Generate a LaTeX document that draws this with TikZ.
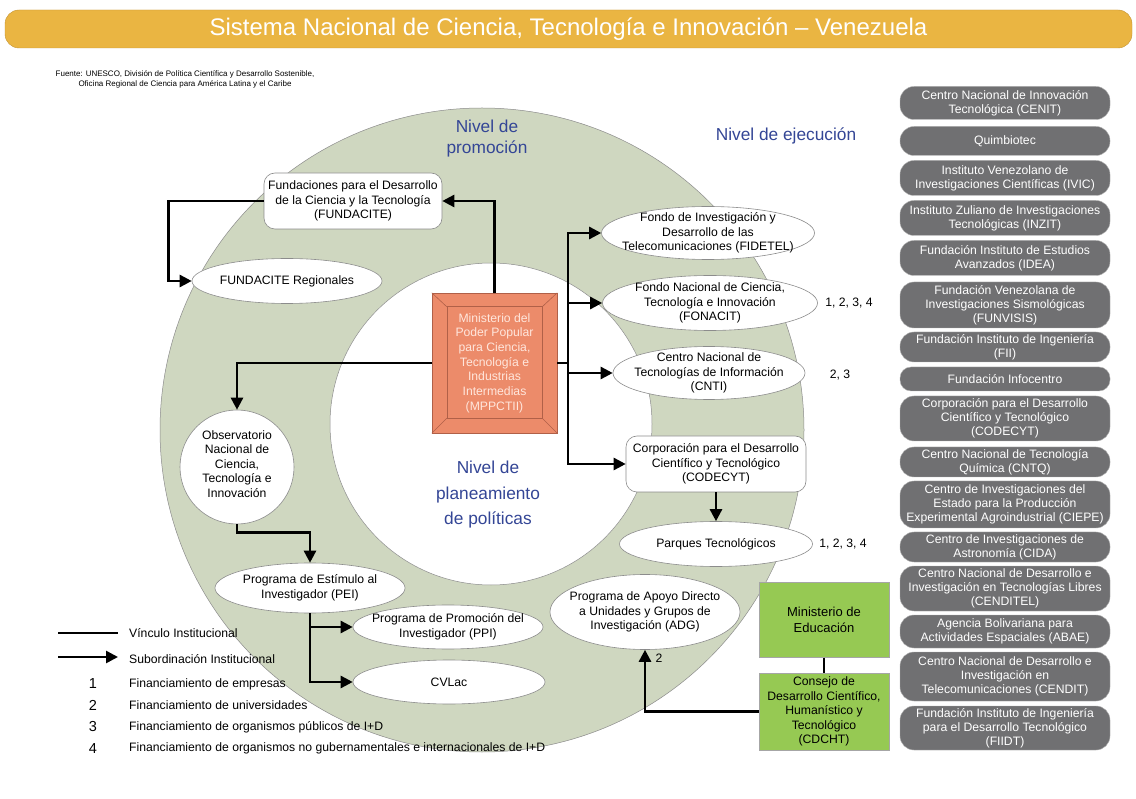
\documentclass[tikz,border=0pt]{standalone}
\usepackage{fontspec}
\setmainfont{Liberation Sans}
\usetikzlibrary{arrows.meta, positioning, shapes.geometric}

\definecolor{ringgreen}{RGB}{207,215,192}
\definecolor{nivelblue}{RGB}{52,70,150}
\definecolor{titlegold}{RGB}{234,181,66}
\definecolor{titleedge}{RGB}{196,148,52}
\definecolor{minorange}{RGB}{236,139,106}
\definecolor{minedge}{RGB}{176,96,72}
\definecolor{minwhite}{RGB}{255,230,220}
\definecolor{edgegreen}{RGB}{150,201,83}
\definecolor{pillgray}{RGB}{112,112,114}
\definecolor{rimgray}{RGB}{140,140,140}

\begin{document}
\begin{tikzpicture}[x=1pt, y=-1pt,
    oval/.style={draw=rimgray, fill=white, ellipse, inner sep=0pt, line width=0.6pt},
    txt/.style={font=\fontsize{12.2}{14.5}\selectfont, align=center, inner sep=0pt},
    rbox/.style={draw=rimgray, fill=white, rounded corners=11pt, line width=0.6pt,
                 font=\fontsize{12.2}{14.5}\selectfont, align=center, inner sep=2pt},
    pill/.style={draw=gray!60, fill=pillgray, text=white, rounded corners=14pt,
                 minimum width=210pt, font=\fontsize{12.2}{14}\selectfont,
                 align=center, inner xsep=0pt, inner ysep=1pt},
    gbox/.style={draw=gray!70, fill=edgegreen, minimum width=130pt,
                 font=\fontsize{12.2}{14.5}\selectfont, align=center, inner sep=1pt},
    minbox/.style={draw=minedge, fill=minorange, minimum width=125pt, minimum height=140pt,
                   text=minwhite, font=\fontsize{12.2}{14.7}\selectfont, align=center, inner sep=0pt},
    nivel/.style={text=nivelblue, font=\fontsize{17.3}{21}\selectfont, align=center},
    note/.style={font=\fontsize{12.2}{14.5}\selectfont, inner sep=0pt},
    num/.style={font=\fontsize{14.5}{16}\selectfont, inner sep=0pt},
    ptr/.style={-{Triangle[length=12pt,width=12pt]}, line width=2.6pt},
    link/.style={line width=2.6pt},
  ]
  \useasboundingbox (0,0) rectangle (1136,799);
  \fill[white] (0,0) rectangle (1136,799);

  % --- Title and source ---
  \node[draw=titleedge, fill=titlegold, rounded corners=14pt, minimum width=1127pt,
        minimum height=38pt, text=white, font=\fontsize{24}{28}\selectfont]
        (title) at (568.5,29) {Sistema Nacional de Ciencia, Tecnología e Innovación – Venezuela};
  \node[font=\fontsize{8}{10}\selectfont, align=center, inner sep=0pt] (fuente) at (185,79)
        {Fuente: UNESCO, División de Política Científica y Desarrollo Sostenible,\\
         Oficina Regional de Ciencia para América Latina y el Caribe};

  % --- Levels: green ring and white core ---
  \filldraw[fill=ringgreen, draw=rimgray, line width=0.5pt] (482,430) circle[radius=322pt];
  \filldraw[fill=white, draw=rimgray, line width=0.5pt] (491,424) circle[radius=161pt];
  \node[nivel] (promo) at (487,139) {Nivel de\\promoción};
  \node[nivel] (ejec) at (786,136) {Nivel de ejecución};
  \node[nivel, font=\fontsize{17.3}{25.5}\selectfont] (plan) at (488,495)
        {Nivel de\\planeamiento\\de políticas};

  % --- Ministry (bevelled box) ---
  \node[minbox] (mppctii) at (494.5,363)
        {Ministerio del\\Poder Popular\\para Ciencia,\\Tecnología e\\Industrias\\Intermedias\\(MPPCTII)};
  \draw[minedge, line width=0.6pt] ([shift={(15,14)}]mppctii.north west)
        rectangle ([shift={(-15,-15)}]mppctii.south east);
  \draw[minedge, line width=0.6pt] (mppctii.north west) -- ++(15,14);
  \draw[minedge, line width=0.6pt] (mppctii.north east) -- ++(-15,14);
  \draw[minedge, line width=0.6pt] (mppctii.south west) -- ++(15,-15);
  \draw[minedge, line width=0.6pt] (mppctii.south east) -- ++(-15,-15);

  % --- Promotion level ---
  \node[rbox, minimum width=178pt, minimum height=56pt] (fundacite) at (353,201)
        {Fundaciones para el Desarrollo\\de la Ciencia y la Tecnología\\(FUNDACITE)};
  \node[oval, minimum width=190pt, minimum height=45pt] (fundreg) at (287,281) {};
  \node[txt] (fundreg-t) at (fundreg) {FUNDACITE Regionales};
  \node[oval, circle, minimum size=114pt] (observ) at (237,467) {};
  \node[txt] (observ-t) at (237,464) {Observatorio\\Nacional de\\Ciencia,\\Tecnología e\\Innovación};
  \node[oval, minimum width=190pt, minimum height=50pt] (pei) at (310,588) {};
  \node[txt] (pei-t) at (pei) {Programa de Estímulo al\\Investigador (PEI)};
  \node[oval, minimum width=190pt, minimum height=44pt] (ppi) at (448,627) {};
  \node[txt] (ppi-t) at (ppi) {Programa de Promoción del\\Investigador (PPI)};
  \node[oval, minimum width=192pt, minimum height=44pt] (cvlac) at (449,682) {};
  \node[txt] (cvlac-t) at (cvlac) {CVLac};

  % --- Execution level ---
  \node[oval, minimum width=213pt, minimum height=53pt] (fidetel) at (708,233) {};
  \node[txt] (fidetel-t) at (fidetel) {Fondo de Investigación y\\Desarrollo de las\\Telecomunicaciones (FIDETEL)};
  \node[oval, minimum width=215pt, minimum height=55pt] (fonacit) at (710,303) {};
  \node[txt] (fonacit-t) at (fonacit) {Fondo Nacional de Ciencia,\\Tecnología e Innovación\\(FONACIT)};
  \node[oval, minimum width=192pt, minimum height=53pt] (cnti) at (709,373) {};
  \node[txt] (cnti-t) at (cnti) {Centro Nacional de\\Tecnologías de Información\\(CNTI)};
  \node[rbox, minimum width=180pt, minimum height=56pt] (codecyt) at (716,464)
        {Corporación para el Desarrollo\\Científico y Tecnológico\\(CODECYT)};
  \node[oval, minimum width=193pt, minimum height=45pt] (parques) at (716,544) {};
  \node[txt] (parques-t) at (parques) {Parques Tecnológicos};
  \node[oval, minimum width=190pt, minimum height=75pt] (adg) at (645,612) {};
  \node[txt] (adg-t) at (adg) {Programa de Apoyo Directo\\a Unidades y Grupos de\\Investigación (ADG)};
  \node[gbox, minimum height=75pt, font=\fontsize{13}{15.5}\selectfont] (minedu) at (824,620)
        {Ministerio de\\Educación};
  \node[gbox, minimum height=77pt] (cdcht) at (824,711.5)
        {Consejo de\\Desarrollo Científico,\\Humanístico y\\Tecnológico\\(CDCHT)};

  \node[note] (fin-fonacit) at (849,303) {1, 2, 3, 4};
  \node[note] (fin-cnti) at (840,375) {2, 3};
  \node[note] (fin-parques) at (843,544) {1, 2, 3, 4};
  \node[note] (fin-adg) at (659,658) {2};

  % --- Connectors ---
  \coordinate (trunk) at (568,363);
  \draw[ptr] (mppctii.north) |- (fundacite.east);
  \draw[ptr] (fundacite.west) -- ++(-95,0) |- (fundreg.west);
  \draw[ptr] (mppctii.west) -| (observ.north);
  \draw[link] (mppctii.east) -- (trunk);
  \draw[ptr] (trunk) |- (fidetel.west);
  \draw[ptr] (trunk) |- (fonacit.west);
  \draw[ptr] (trunk) |- (cnti.west);
  \draw[ptr] (trunk) |- (codecyt.west);
  \draw[ptr] (codecyt) -- (parques);
  \draw[ptr] (observ.south) -- ++(0,8) -| (pei.north);
  \draw[ptr] (pei.south) |- (ppi.west);
  \draw[ptr] (pei.south) |- (cvlac.west);
  \draw[link] (minedu) -- (cdcht);
  \draw[ptr] (cdcht.west) -| (adg.south);

  % --- Research institutes ---
  \node[pill, minimum height=33pt] (p-cenit) at (1005,103) {Centro Nacional de Innovación\\Tecnológica (CENIT)};
  \node[pill, minimum height=29pt] (p-quim) at (1005,141) {Quimbiotec};
  \node[pill, minimum height=35pt] (p-ivic) at (1005,178) {Instituto Venezolano de\\Investigaciones Científicas (IVIC)};
  \node[pill, minimum height=35pt] (p-inzit) at (1005,218) {Instituto Zuliano de Investigaciones\\Tecnológicas (INZIT)};
  \node[pill, minimum height=35pt] (p-idea) at (1005,258) {Fundación Instituto de Estudios\\Avanzados (IDEA)};
  \node[pill, minimum height=46pt] (p-funvisis) at (1005,305) {Fundación Venezolana de\\Investigaciones Sismológicas\\(FUNVISIS)};
  \node[pill, minimum height=30pt] (p-fii) at (1005,347) {Fundación Instituto de Ingeniería\\(FII)};
  \node[pill, minimum height=24pt, rounded corners=11pt] (p-info) at (1005,379) {Fundación Infocentro};
  \node[pill, minimum height=45pt] (p-codecyt) at (1005,418.5) {Corporación para el Desarrollo\\Científico y Tecnológico\\(CODECYT)};
  \node[pill, minimum height=30pt] (p-cntq) at (1005,462) {Centro Nacional de Tecnología\\Química (CNTQ)};
  \node[pill, minimum height=47pt] (p-ciepe) at (1005,504.5) {Centro de Investigaciones del\\Estado para la Producción\\Experimental Agroindustrial (CIEPE)};
  \node[pill, minimum height=30pt] (p-cida) at (1005,547) {Centro de Investigaciones de\\Astronomía (CIDA)};
  \node[pill, minimum height=45pt] (p-cenditel) at (1005,588.5) {Centro Nacional de Desarrollo e\\Investigación en Tecnologías Libres\\(CENDITEL)};
  \node[pill, minimum height=33pt] (p-abae) at (1005,631.5) {Agencia Bolivariana para\\Actividades Espaciales (ABAE)};
  \node[pill, minimum height=49pt] (p-cendit) at (1005,676.5) {Centro Nacional de Desarrollo e\\Investigación en\\Telecomunicaciones (CENDIT)};
  \node[pill, minimum height=44pt] (p-fiidt) at (1005,728) {Fundación Instituto de Ingeniería\\para el Desarrollo Tecnológico\\(FIIDT)};

  % --- Legend ---
  \coordinate (vin-a) at (58,633);
  \coordinate (vin-b) at (118,633);
  \draw[link] (vin-a) -- (vin-b);
  \node[note, anchor=west] (vin-t) at (129,633) {Vínculo Institucional};
  \coordinate (sub-a) at (58,657);
  \coordinate (sub-b) at (118,657);
  \draw[ptr] (sub-a) -- (sub-b);
  \node[note, anchor=west] (sub-t) at (129,659) {Subordinación Institucional};
  \node[num] (n1) at (93,684) {1};
  \node[note, anchor=west] (n1-t) at (129,684) {Financiamiento de empresas};
  \node[num] (n2) at (93,705) {2};
  \node[note, anchor=west] (n2-t) at (129,705) {Financiamiento de universidades};
  \node[num] (n3) at (93,727) {3};
  \node[note, anchor=west] (n3-t) at (129,727) {Financiamiento de organismos públicos de I+D};
  \node[num] (n4) at (93,749) {4};
  \node[note, anchor=west] (n4-t) at (129,748) {Financiamiento de organismos no gubernamentales e internacionales de I+D};

\end{tikzpicture}
\end{document}
